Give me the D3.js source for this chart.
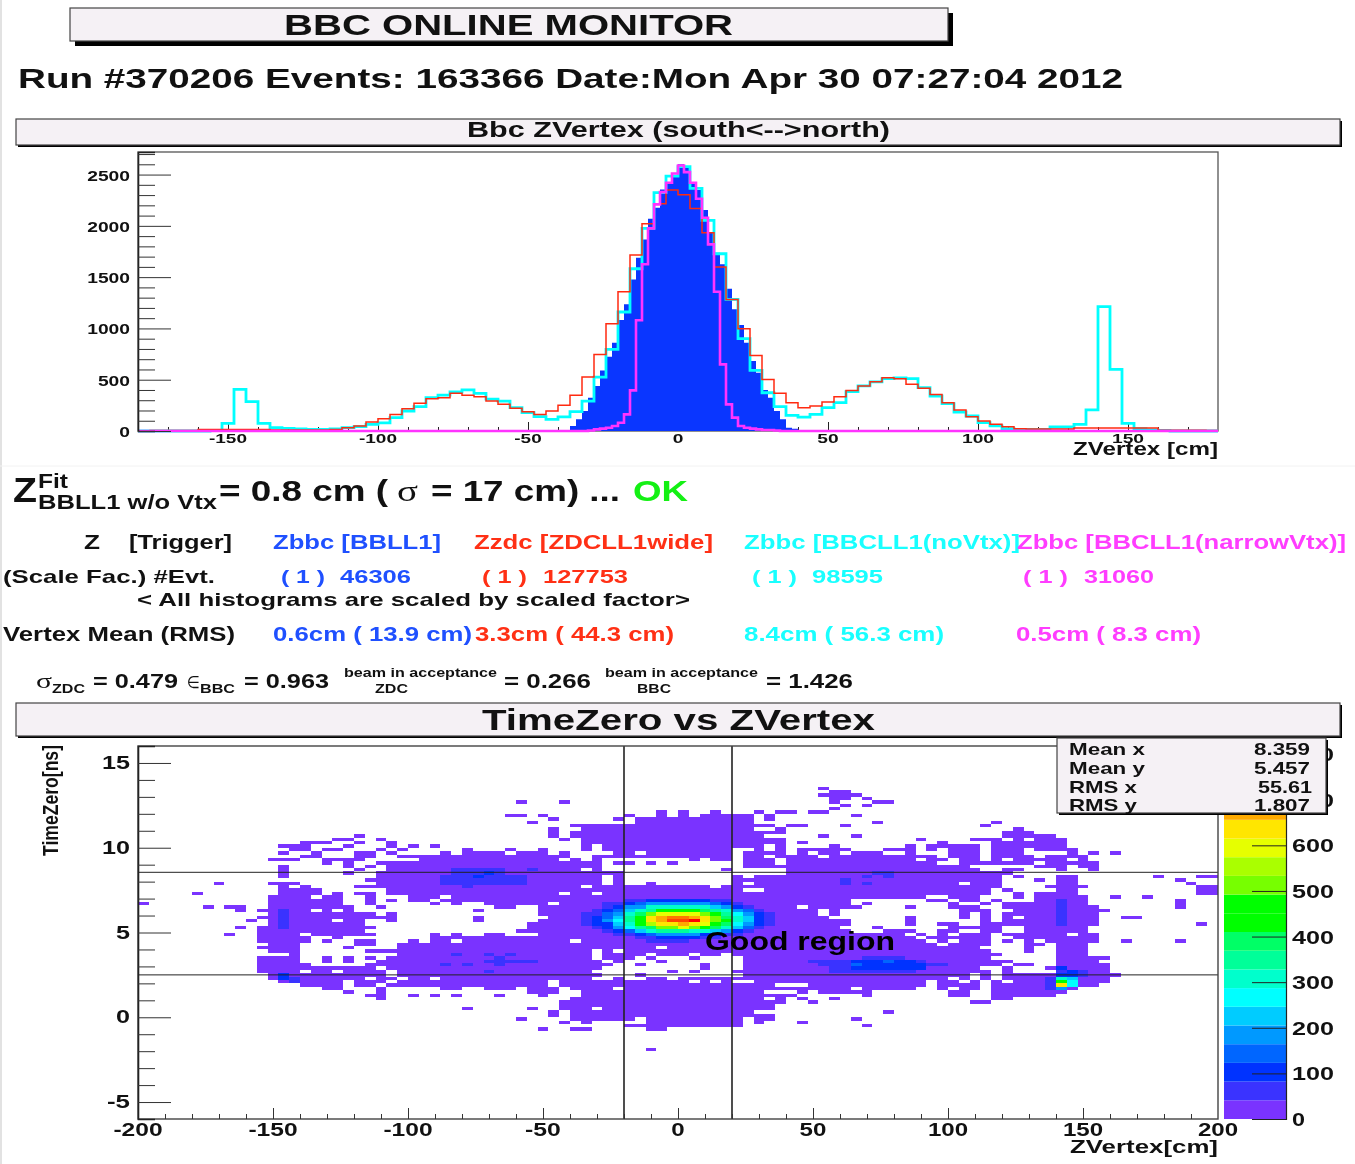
<!DOCTYPE html>
<html>
<head>
<meta charset="utf-8">
<script src="https://cdn.jsdelivr.net/npm/d3@7"></script>
<style>
html, body { margin: 0; padding: 0; background: #fff; }
svg { display: block; filter: blur(0.55px); }
text { font-family: "Liberation Sans", Arial, sans-serif; font-weight: bold; fill: #111; }
</style>
</head>
<body>
<div id="chart"></div>
<script>
// 4 cm bins, -180..180
var zdcWide = [0,6,6,6,6,15,15,15,15,15,15,10,10,10,10,10,15,32,49,88,120,162,218,270,315,325,367,348,335,292,260,221,188,162,195,250,348,526,747,1046,1358,1715,2021,2216,2349,2303,2170,1933,1598,1283,997,737,503,367,276,227,244,283,335,396,439,481,520,510,455,416,357,276,205,140,97,65,42,23,20,20,20,20,30,30,30,30,30,30,30,8,8,8,8,5];
var bbcNoVtx = [0,0,0,0,0,0,5,75,406,286,75,32,25,20,15,15,20,32,42,65,80,130,195,237,325,350,380,400,367,310,292,228,180,140,114,137,188,292,526,796,1160,1582,1975,2323,2485,2577,2365,2053,1728,1283,900,591,373,237,153,136,162,227,276,383,439,478,510,517,510,422,341,266,185,146,81,49,23,15,15,15,39,39,65,205,1212,601,75,23,10,5,0,0,0,0];
// 2 cm bins, -180..180
var bbcLL1 = [0,0,0,0,0,0,0,0,0,0,0,0,0,0,0,0,0,0,0,0,0,0,0,0,0,0,0,0,0,0,0,0,0,0,0,0,0,0,0,0,0,0,0,0,0,0,0,0,0,0,0,0,0,0,0,0,0,0,0,0,0,0,0,0,0,0,0,0,0,0,0,10,49,114,195,325,439,591,725,861,1082,1235,1478,1690,1868,2070,2177,2355,2420,2492,2600,2567,2420,2349,2154,1933,1738,1625,1387,1186,1033,861,682,569,400,325,195,114,32,23,10,0,0,0,0,0,0,0,0,0,0,0,0,0,0,0,0,0,0,0,0,0,0,0,0,0,0,0,0,0,0,0,0,0,0,0,0,0,0,0,0,0,0,0,0,0,0,0,0,0,0,0,0,0,0,0,0,0,0,0,0,0];
var bbcNarrow = [0,0,0,0,0,0,0,0,0,0,0,0,0,0,0,0,0,0,0,0,0,0,0,0,0,0,0,0,0,0,0,0,0,0,0,0,0,0,0,0,0,0,0,0,0,0,0,0,0,0,0,0,0,0,0,0,0,0,0,0,0,0,0,0,0,0,0,0,0,0,0,0,0,0,0,5,16,23,32,49,81,162,396,1079,1625,1975,2209,2329,2420,2511,2589,2524,2420,2264,2079,1819,1358,650,260,130,49,32,23,16,10,10,5,0,0,0,0,0,0,0,0,0,0,0,0,0,0,0,0,0,0,0,0,0,0,0,0,0,0,0,0,0,0,0,0,0,0,0,0,0,0,0,0,0,0,0,0,0,0,0,0,0,0,0,0,0,0,0,0,0,0,0,0,0,0,0,0,0];

var topXLabels = [-150,-100,-50,0,50,100,150];
var topYLabels = [0,500,1000,1500,2000,2500];

// TimeZero vs ZVertex: 100 columns of 4 cm, 110 rows of 0.2 ns counted down from 16 ns
// occupied columns of each row, first row is 12
var firstRow = 12;
var rowRuns = [
"63","64-65","63-66","64-65,67","35,39,64,68-69","65,67","64",
"48,50,53,57,59-60,62-63",
"34-35,37,45,48,50,52-56,58,66",
"38,44,46-56,58",
"36,46-56,68,79",
"40-58,60-61,65,78",
"38,41-56,59,81",
"38,40-59,80-82",
"20,38,40-57,63,66,80-84",
"18-19,22,39,41-59,72,77-79,81,83-85",
"15-17,20,23,41-59,61,74,79-85",
"13-15,19,23,25,27,41,43-57,59,64,71,73-77,79-85",
"14-15,17-18,22,24,30,34,37,41,43-54,57,59,61-65,69-71,73,75-77,79-81,83-86",
"13,16,20-21,23,28,30-33,35-37,39,44-45,47-54,56-59,61,63-64,66-68,71,75-77,79-81,86,88,90",
"15-16,20-21,24-39,42-54,56-57,59-62,64-73,75-77,79-82,84-87",
"12-14,17-20,26-38,40,42,51,53-54,56-58,60-71,73-74,76-77,79,81-85,87",
"17,19,22-42,44-45,47,49,56-58,60-73,76-82,84-88",
"13,19,21,23-42,56-76,83-85,87-88",
"13,20,23-40,42,54,60-77,80-81,85,88",
"13,19,22-44,60-80",
"13,22-42,44,55,57-79,81,85-86,94,98-99",
"21-42,44,55-79,83,85-86,96",
"7,12-14,22-42,44,47,55,57-75,77-79,85-86,97",
"13,15,20-40,42-52,54-79,84-87,98-99",
"13-16,23-55,58-78,80,85-86,98-99",
"5,13-16,18,20-21,23-38,40-41,43-78,81,83-86,98-99",
"12-15,17-18,21,25-27,29-72,75-77,81,83-87,90,93",
"12-18,21,23,25-26,28-65,73-74,76-77,79,83-87,96",
"0,12-18,21,27,29,32-37,39-65,67,75,78,80-87,96",
"6,8-9,12-19,22,33-34,37-60,62-66,71,75-77,80-88,96",
"9,11-15,17,19,31,37-62,64,76-78,81-89",
"12-21,23,37-62,64,76,78,80-88",
"11-23,31,38-63,71,76,78,80,82-88,91-92",
"10,12-17,19-20,23,31,37-65,71,78,80-88",
"12-20,36-65,71,74-75,78-88,98",
"9,11-21,36-64,68,75-79,82-87",
"11-20,35-65,69-71,74-75,78-79,82-87",
"8,11-14,16-21,27,29,32-33,37-70,72,74,76-78,80-85,87-88",
"11-15,18,27-71,73-78,81-88",
"11-15,17,20-21,25,27-28,30-39,41-72,74,76-78,80,82,84-88,91,96",
"12-14,20-21,24-73,75-78,82-83,85-87",
"11-14,19,24-47,49-77,82,85-87",
"12-14,21-41,43,45-78,82,85-87",
"14,24-41,43-46,48-50,52-53,55-79,85-87",
"11-14,17,19,21,23-41,43-45,47,51,56-78,85-89",
"11-14,17,19,22-42,44,48,56-80,85-88",
"11-15,21-43,46,52,56-79,81-82,85-89",
"11-21,23-42,52,56-77,80,84-89",
"11-14,16-17,19-22,24-41,49,51,55-78,80,85-89",
"12-22,24-42,46,56-76,78,80-90",
"12-20,22-23,25-26,28-41,44,47-48,50-74,76,78,80-89",
"13-18,20-22,24-37,39-50,52,54,57-72,74-75,77,79,81-89",
"15-18,20-21,23-37,39-58,62-72,74-77,79-88",
"17-18,22,28-29,32-34,36-38,40-43,45-65,67-71,74,76-77,79-86",
"19,22,36-38,41-57,61,63-67,75-76,79-85",
"21-22,25,27,29,33,37,41-60,67,75-76,79-84",
"22,40-57,59,61,64,79-80",
"39-59,62,77-78",
"39-58",
"30,36,39-41,43-58",
"38,40-56,69",
"38,40-58",
"35,40-45,47-55,57-58,66",
"39,41,47-55,57,61",
"45-55,67",
"37,40-41,47-48",
"","","","","",
"47"
];
var baseCount = 20;
// denser patches: first col, last col, first row, last row, count
var patches = [
[29,33,36,37,60],[36,36,36,36,60],[28,35,38,40,60],[30,30,41,41,60],[31,31,38,38,100],[32,32,37,37,100],
[13,13,48,53,60],[13,13,67,68,100],[14,14,68,69,60],
[29,29,61,61,60],[32,32,61,61,60],[34,34,61,61,60],[32,36,63,63,60],[33,33,62,64,60],[28,28,64,64,60],[30,30,64,64,60],[32,32,66,66,60],
[65,65,39,40,60],[67,67,38,38,60],[67,67,40,40,60],[68,69,37,37,60],[69,69,38,38,60],
[67,70,62,62,60],[62,64,63,63,60],[65,65,63,63,60],[66,71,63,63,100],[72,72,63,63,60],[63,65,64,64,60],[66,72,64,64,100],[73,74,64,64,60],[64,65,65,65,60],[66,72,65,65,100],[64,71,66,66,60],[66,66,64,64,130],[69,69,63,63,130],
[85,85,45,52,60],[85,85,65,65,100],[85,85,66,66,80],[86,86,66,66,100],[87,87,66,67,60],[85,86,67,67,100],[84,84,68,71,60],
[85,85,68,68,300],[86,86,68,68,230],[85,85,69,69,450],[86,86,69,69,250],[85,85,70,70,620],[86,86,70,70,250],[85,85,71,71,200]
];
// beam spot, columns 41..58, rows 45..57, 0 = nothing extra
var spotCol = 41, spotRow = 45;
var spot = [
[0,0,0,0,60,60,100,100,100,100,100,100,60,60,0,0,0,0],
[0,0,60,60,100,140,170,190,200,200,190,170,130,100,60,40,0,0],
[0,0,60,100,180,200,290,300,320,320,300,290,230,180,100,60,0,0],
[0,60,100,130,220,300,360,410,420,440,420,400,360,300,200,130,60,0],
[60,80,130,200,290,400,500,580,610,610,600,520,450,350,260,170,100,60],
[60,90,130,230,330,440,620,690,700,720,690,620,500,400,290,210,110,60],
[60,100,170,250,340,440,620,670,760,760,790,630,500,420,290,210,110,60],
[60,90,120,220,320,430,560,620,650,670,650,590,480,380,260,190,100,60],
[0,60,100,170,260,340,400,520,530,580,520,450,400,320,220,130,60,0],
[0,40,60,100,160,220,290,330,340,340,320,290,240,170,110,60,0,0],
[0,0,0,60,70,100,140,170,180,180,170,120,100,70,60,0,0,0],
[0,0,0,0,0,60,60,100,100,100,90,60,60,0,0,0,0,0],
[0,0,0,0,0,0,60,60,60,60,0,0,0,0,0,0,0,0]
];

var palette = ["#7a33ff","#3a33ff","#0033ff","#0066ff","#0099ff","#00ccff","#00ffff","#00ffcc","#00ff99","#00ff66","#00ff00","#00ff00","#77ff00","#aaff00","#e6ff00","#ffe600","#ffaa00","#ff7700","#ff4400","#ff0000"];
var zMax = 820;
var colorTicks = [0,100,200,300,400,500,600,700,800];
var heatXLabels = [-200,-150,-100,-50,0,50,100,150,200];
var heatYLabels = [-5,0,5,10,15];

var blue = "#1f50ff", red = "#ff3015", cyan = "#19ffff", pink = "#ff3dff";

var svg = d3.select("#chart").append("svg").attr("width", 1355).attr("height", 1164);

function label(x, y, s, size, w, color, anchor) {
	var t = svg.append("text")
		.attr("x", x).attr("y", y)
		.style("font-size", size + "px")
		.text(s);
	if (w) t.attr("textLength", w).attr("lengthAdjust", "spacingAndGlyphs");
	if (color) t.style("fill", color);
	if (anchor) t.attr("text-anchor", anchor);
	return t;
}
function box(x0, y0, x1, y1, shadow) {
	svg.append("rect").attr("x", x0 + shadow).attr("y", y0 + shadow)
		.attr("width", x1 - x0).attr("height", y1 - y0).attr("fill", "#000");
	svg.append("rect").attr("x", x0).attr("y", y0)
		.attr("width", x1 - x0).attr("height", y1 - y0)
		.attr("fill", "#f5f1f5").attr("stroke", "#444").attr("stroke-width", 1.2);
}
function tickWidth(v, charW, dashW) {
	var s = String(v);
	return s.replace("-", "").length * charW + (v < 0 ? dashW : 0);
}

// edge bits of the page
svg.append("rect").attr("x", 0).attr("y", 0).attr("width", 2).attr("height", 1164).attr("fill", "#e2e2e2");
svg.append("line").attr("x1", 0).attr("x2", 1355).attr("y1", 466).attr("y2", 466).attr("stroke", "#f2f2f2");

box(70, 8, 948, 41, 5);
label(284, 35, "BBC ONLINE MONITOR", 30, 449);
label(18, 88, "Run #370206 Events: 163366 Date:Mon Apr 30 07:27:04 2012", 28, 1105);
box(16, 119, 1340, 145, 2);
label(467, 137, "Bbc ZVertex (south<-->north)", 22, 423);

// ---- top histogram
var x = d3.scaleLinear().domain([-180, 180]).range([138, 1218]);
var y = d3.scaleLinear().domain([0, 2720]).range([431, 152]);

function steps(values, binW) {
	var pts = values.map(function(v, i) { return [-180 + i * binW, v]; });
	pts.push([180, values[values.length - 1]]);
	return pts;
}
var line = d3.line().x(function(d) { return x(d[0]); }).y(function(d) { return y(d[1]); }).curve(d3.curveStepAfter);
var area = d3.area().x(function(d) { return x(d[0]); }).y0(y(0)).y1(function(d) { return y(d[1]); }).curve(d3.curveStepAfter);

svg.append("rect").attr("x", 138).attr("y", 152).attr("width", 1080).attr("height", 279)
	.attr("fill", "none").attr("stroke", "#555").attr("stroke-width", 1.3);

var topGX = svg.append("g").attr("transform", "translate(0,431)");
topGX.call(d3.axisTop(x).tickValues(d3.range(-170, 171, 10)).tickSize(4).tickFormat(""));
topGX.call(function(g) {
	g.select(".domain").attr("stroke", "#222").attr("stroke-width", 0);
	g.selectAll(".tick line").attr("stroke", "#222");
	g.selectAll(".tick").filter(function(d) { return d % 50 === 0; }).select("line").attr("y2", -9);
});

svg.append("path").datum(steps(bbcLL1, 2)).attr("d", area).attr("fill", "#0a36ff");
svg.append("path").datum(steps(bbcNoVtx, 4)).attr("d", line).attr("fill", "none").attr("stroke", "#00ffff").attr("stroke-width", 2.8);
svg.append("path").datum(steps(zdcWide, 4)).attr("d", line).attr("fill", "none").attr("stroke", "#ff2a10").attr("stroke-width", 1.5);
svg.append("path").datum(steps(bbcNarrow, 2)).attr("d", line).attr("fill", "none").attr("stroke", "#ff33ff").attr("stroke-width", 2.6);

var topGY = svg.append("g").attr("transform", "translate(138,0)");
topGY.call(d3.axisRight(y).tickValues(d3.range(0, 2701, 100)).tickSize(17).tickFormat(""));
topGY.call(function(g) {
	g.selectAll(".tick line").attr("stroke", "#333");
	g.select(".domain").attr("stroke", "#222").attr("stroke-width", 1.6);
	g.selectAll(".tick").filter(function(d) { return d % 500 === 0; }).select("line").attr("x2", 33);
});
topYLabels.forEach(function(v) {
	label(130, y(v) + 6, v, 15, tickWidth(v, 10.7, 0), null, "end");
});
topXLabels.forEach(function(v) {
	label(x(v), 443, v, 13.5, tickWidth(v, 10.7, 6), null, "middle");
});
label(1073, 455, "ZVertex [cm]", 19, 145);

// ---- fit line
label(13, 502, "Z", 35, 24);
label(38, 488, "Fit", 20, 30);
label(38, 509, "BBLL1 w/o Vtx", 21, 179);
label(219, 501, "= 0.8 cm (", 30, 169);
label(397, 501, "\u03c3", 30, 21).style("font-family", "Liberation Serif").style("font-weight", "normal");
label(431, 501, "= 17 cm) ...", 30, 189);
label(633, 501, "OK", 30, 55, "#14f014");

// ---- trigger table
label(84, 549, "Z", 20, 16);
label(129, 549, "[Trigger]", 20, 103);
label(273, 549, "Zbbc [BBLL1]", 20, 168, blue);
label(474, 549, "Zzdc [ZDCLL1wide]", 20, 239, red);
label(744, 549, "Zbbc [BBCLL1(noVtx)]", 20, 276, cyan);
label(1017, 549, "Zbbc [BBCLL1(narrowVtx)]", 20, 329, pink);

label(3, 583, "(Scale Fac.) #Evt.", 18.5, 212);
label(281, 583, "( 1 )", 19, 44, blue);
label(340, 583, "46306", 19, 71, blue);
label(482, 583, "( 1 )", 19, 45, red);
label(543, 583, "127753", 19, 85, red);
label(752, 583, "( 1 )", 19, 45, cyan);
label(812, 583, "98595", 19, 71, cyan);
label(1023, 583, "( 1 )", 19, 45, pink);
label(1084, 583, "31060", 19, 70, pink);

label(137, 606, "< All histograms are scaled by scaled factor>", 18.5, 553);

label(3, 641, "Vertex Mean (RMS)", 19.5, 232);
label(273, 641, "0.6cm ( 13.9 cm)", 19.5, 199, blue);
label(475, 641, "3.3cm ( 44.3 cm)", 19.5, 199, red);
label(744, 641, "8.4cm ( 56.3 cm)", 19.5, 200, cyan);
label(1016, 641, "0.5cm ( 8.3 cm)", 19.5, 185, pink);

label(36, 688, "\u03c3", 20, 16).style("font-family", "Liberation Serif").style("font-weight", "normal");
label(52, 693, "ZDC", 13.5, 33);
label(93, 688, "= 0.479", 20, 85);
label(187, 688, "\u2208", 17, 13).style("font-family", "DejaVu Sans").style("font-weight", "normal");
label(200, 693, "BBC", 13.5, 35);
label(244, 688, "= 0.963", 20, 85);
label(344, 677, "beam in acceptance", 13, 153);
label(375, 693, "ZDC", 12.5, 33);
label(504, 688, "= 0.266", 20, 87);
label(605, 677, "beam in acceptance", 13, 153);
label(637, 693, "BBC", 12.5, 34);
label(766, 688, "= 1.426", 20, 87);

// ---- 2d histogram
box(16, 703, 1340, 736, 2);
label(482, 730, "TimeZero vs ZVertex", 30, 393);

var hx = d3.scaleLinear().domain([-200, 200]).range([138, 1218]);
var hy = d3.scaleLinear().domain([-6, 16]).range([1119, 746]);
var color = d3.scaleQuantize().domain([0, zMax]).range(palette);
var colW = 4, rowH = 0.2;

var counts = new Map();
rowRuns.forEach(function(s, i) {
	if (!s) return;
	s.split(",").forEach(function(run) {
		var p = run.split("-").map(Number);
		var last = p.length > 1 ? p[1] : p[0];
		for (var c = p[0]; c <= last; c++) counts.set(c + "," + (firstRow + i), baseCount);
	});
});
patches.forEach(function(p) {
	for (var c = p[0]; c <= p[1]; c++)
		for (var r = p[2]; r <= p[3]; r++) counts.set(c + "," + r, p[4]);
});
spot.forEach(function(vals, i) {
	vals.forEach(function(v, j) {
		if (v) counts.set((spotCol + j) + "," + (spotRow + i), v);
	});
});
var cells = [];
counts.forEach(function(v, k) {
	var p = k.split(",").map(Number);
	cells.push({z: -200 + p[0] * colW, t: 16 - p[1] * rowH, v: v});
});

svg.append("g").selectAll("rect").data(cells).enter().append("rect")
	.attr("x", function(d) { return hx(d.z); })
	.attr("y", function(d) { return hy(d.t); })
	.attr("width", hx(colW) - hx(0))
	.attr("height", hy(0) - hy(rowH))
	.attr("fill", function(d) { return color(d.v); })
	.attr("shape-rendering", "crispEdges");

// good region
[-20, 20].forEach(function(v) {
	svg.append("line").attr("x1", hx(v)).attr("x2", hx(v)).attr("y1", 746).attr("y2", 1119)
		.attr("stroke", "#222").attr("stroke-width", 1.6);
});
[2.5, 8.55].forEach(function(v) {
	svg.append("line").attr("x1", 138).attr("x2", 1218).attr("y1", hy(v)).attr("y2", hy(v))
		.attr("stroke", "#222").attr("stroke-width", 1);
});
label(705, 950, "Good region", 26, 190, "#000");

svg.append("rect").attr("x", 138).attr("y", 746).attr("width", 1080).attr("height", 373)
	.attr("fill", "none").attr("stroke", "#444").attr("stroke-width", 1.4);

var heatGY = svg.append("g").attr("transform", "translate(138,0)");
heatGY.call(d3.axisRight(hy).tickValues(d3.range(-5, 16, 1)).tickSize(17).tickFormat(""));
heatGY.call(function(g) {
	g.selectAll(".tick line").attr("stroke", "#333");
	g.select(".domain").attr("stroke", "#222").attr("stroke-width", 1.6);
	g.selectAll(".tick").filter(function(d) { return d % 5 === 0; }).select("line").attr("x2", 33);
});
heatYLabels.forEach(function(v) {
	label(130, hy(v) + 6, v, 18, tickWidth(v, 14, 9), null, "end");
});
var heatGX = svg.append("g").attr("transform", "translate(0,1119)");
heatGX.call(d3.axisTop(hx).tickValues(d3.range(-190, 191, 10)).tickSize(5).tickFormat(""));
heatGX.call(function(g) {
	g.select(".domain").attr("stroke-width", 0);
	g.selectAll(".tick line").attr("stroke", "#333");
	g.selectAll(".tick").filter(function(d) { return d % 50 === 0; }).select("line").attr("y2", -11);
});
heatXLabels.forEach(function(v) {
	label(hx(v), 1136, v, 18, tickWidth(v, 13.4, 9), null, "middle");
});
label(1070, 1153, "ZVertex[cm]", 19, 148);
svg.append("text").attr("transform", "translate(58,856) rotate(-90)")
	.style("font-size", "22px").attr("textLength", 111).attr("lengthAdjust", "spacingAndGlyphs")
	.text("TimeZero[ns]");

// ---- colour bar
var cz = d3.scaleLinear().domain([0, zMax]).range([1119, 745]);
svg.append("g").selectAll("rect").data(palette).enter().append("rect")
	.attr("x", 1224).attr("width", 62)
	.attr("y", function(d, i) { return cz((i + 1) * zMax / palette.length); })
	.attr("height", cz(0) - cz(zMax / palette.length))
	.attr("fill", function(d) { return d; });
var barAxis = svg.append("g").attr("transform", "translate(1286,0)");
barAxis.call(d3.axisLeft(cz).tickValues(colorTicks).tickSize(34).tickFormat(""));
barAxis.call(function(g) {
	g.selectAll(".tick line").attr("stroke", "#222");
	g.select(".domain").attr("stroke", "#222").attr("stroke-width", 1.2);
});
colorTicks.forEach(function(v) {
	label(1292, cz(v) + 7, v, 18, v ? 42 : 13);
});

// ---- stats box
box(1057, 738, 1326, 813, 2);
label(1069, 755, "Mean x", 17, 76);
label(1069, 774, "Mean y", 17, 76);
label(1069, 793, "RMS x", 17, 68);
label(1069, 811, "RMS y", 17, 68);
label(1254, 755, "8.359", 17, 56);
label(1254, 774, "5.457", 17, 56);
label(1258, 793, "55.61", 17, 54);
label(1254, 811, "1.807", 17, 56);
</script>
</body>
</html>
